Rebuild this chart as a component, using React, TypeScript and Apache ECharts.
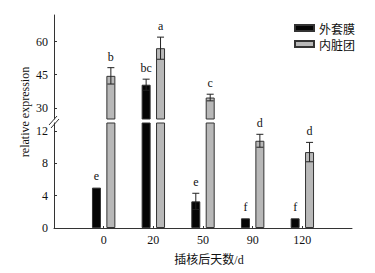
import React, { useEffect, useRef } from "react";
import * as echarts from "echarts";

const categories = ["0", "20", "50", "90", "120"];
const seriesNames = ["外套膜", "内脏团"];
const mantleValues = [5.0, 40.5, 3.3, 1.2, 1.2];
const mantleErrors = [0.1, 2.5, 1.0, 0.1, 0.1];
const mantleLetters = ["e", "bc", "e", "f", "f"];
const visceralValues = [44.5, 57.0, 34.7, 10.8, 9.4];
const visceralErrors = [3.7, 5.0, 1.5, 0.8, 1.2];
const visceralLetters = ["b", "a", "c", "d", "d"];
const lowerTicks = [0, 4, 8, 12];
const upperTicks = [30, 45, 60];
const lowerRange = [0, 13];
const upperRange = [25, 72];

const SERIF = "Liberation Serif, Noto Sans CJK SC";
const BAR_W = 9;
const BAR_GAP = 0.6;
const colors = ["#050505", "#b8b8b8"];

export default function App() {
  const ref = useRef<HTMLDivElement>(null);
  useEffect(() => {
    if (!ref.current) return;
    const chart = echarts.init(ref.current, null, { renderer: "svg" });
    const axisCats = ["", ...categories, ""];
    const values = [mantleValues, visceralValues];
    const errors = [mantleErrors, visceralErrors];
    const letters = [mantleLetters, visceralLetters];
    const half = (BAR_W + BAR_W * BAR_GAP) / 2;

    const buildErr = (inRange: (v: number) => boolean) => {
      const data: number[][] = [];
      const meta: { s: number; letter: string }[] = [];
      for (let s = 0; s < 2; s++) {
        values[s].forEach((v, i) => {
          if (inRange(v)) {
            data.push([i + 1, v, errors[s][i]]);
            meta.push({ s, letter: letters[s][i] });
          }
        });
      }
      return { data, meta };
    };
    const upperErr = buildErr((v) => v > lowerRange[1]);
    const lowerErr = buildErr((v) => v <= lowerRange[1]);

    const makeRender = (meta: { s: number; letter: string }[]) =>
      (params: any, api: any) => {
        const m = meta[params.dataIndex];
        const x = api.value(0);
        const v = api.value(1);
        const e = api.value(2);
        const off = m.s === 0 ? -half : half;
        const top = api.coord([x, v + e]);
        const bot = api.coord([x, v - e]);
        const cx = top[0] + off;
        const children: any[] = [];
        const ls = { stroke: "#222", lineWidth: 1 };
        if (e > 0.2) {
          children.push(
            { type: "line", shape: { x1: cx, y1: top[1], x2: cx, y2: bot[1] }, style: ls },
            { type: "line", shape: { x1: cx - 3.5, y1: top[1], x2: cx + 3.5, y2: top[1] }, style: ls },
            { type: "line", shape: { x1: cx - 3.5, y1: bot[1], x2: cx + 3.5, y2: bot[1] }, style: ls }
          );
        }
        children.push({
          type: "text",
          x: cx,
          y: top[1] - 5,
          style: {
            text: m.letter,
            fill: "#111",
            font: `12px ${SERIF}`,
            align: "center",
            verticalAlign: "bottom",
          },
        });
        return { type: "group", children };
      };

    const yCommon = (ticks: number[], range: number[], grid: number) => ({
      type: "value",
      gridIndex: grid,
      min: range[0],
      max: range[1],
      axisLine: { show: true, lineStyle: { color: "#333", width: 1 } },
      axisTick: { show: true, inside: true, length: 3, customValues: ticks, lineStyle: { color: "#333" } },
      axisLabel: { customValues: ticks, color: "#111", fontFamily: SERIF, fontSize: 12, margin: 6 },
      splitLine: { show: false },
    });

    const padData = (arr: (number | string)[]) => ["-", ...arr, "-"];

    const barStyle = (s: number) => ({
      color: colors[s],
      borderColor: "#333",
      borderWidth: 1,
    });

    chart.setOption({
      animation: false,
      legend: {
        orient: "vertical",
        left: 289,
        top: 17,
        icon: "rect",
        itemWidth: 19,
        itemHeight: 6,
        itemGap: 4,
        textStyle: { fontFamily: "Noto Sans CJK SC", fontSize: 12, color: "#111", lineHeight: 12 },
        data: seriesNames,
      },
      grid: [
        { left: 54, right: 23, top: 15, height: 104 },
        { left: 54, right: 23, top: 123, height: 105 },
      ],
      xAxis: [
        { type: "category", gridIndex: 0, data: axisCats, boundaryGap: false, show: false },
        {
          type: "category",
          gridIndex: 1,
          data: axisCats,
          boundaryGap: false,
          axisLine: { lineStyle: { color: "#333", width: 1 } },
          axisTick: {
            inside: true,
            length: 2,
            interval: (i: number, v: string) => v !== "",
            lineStyle: { color: "#333" },
          },
          axisLabel: { color: "#111", fontFamily: SERIF, fontSize: 12, margin: 6, interval: 0 },
        },
      ],
      yAxis: [yCommon(upperTicks, upperRange, 0), yCommon(lowerTicks, lowerRange, 1)],
      graphic: [
        {
          type: "text",
          x: 25,
          y: 112,
          rotation: Math.PI / 2,
          style: {
            text: "relative expression",
            font: `12px ${SERIF}`,
            fill: "#111",
            align: "center",
            verticalAlign: "middle",
          },
        },
        {
          type: "text",
          x: 209,
          y: 260,
          style: {
            text: "插核后天数/d",
            font: `12px ${SERIF}`,
            fill: "#111",
            align: "center",
            verticalAlign: "middle",
          },
        },
        { type: "line", shape: { x1: 49, y1: 125, x2: 57, y2: 116 }, style: { stroke: "#333", lineWidth: 1 } },
        { type: "line", shape: { x1: 51, y1: 128, x2: 59, y2: 119 }, style: { stroke: "#333", lineWidth: 1 } },
      ],
      series: [
        ...[0, 1].map((s) => ({
          name: seriesNames[s],
          type: "bar",
          xAxisIndex: 0,
          yAxisIndex: 0,
          barWidth: BAR_W,
          barGap: `${BAR_GAP * 100}%`,
          clip: true,
          itemStyle: barStyle(s),
          data: padData(values[s].map((v) => (v > upperRange[0] ? v : "-"))),
        })),
        ...[0, 1].map((s) => ({
          name: seriesNames[s],
          type: "bar",
          xAxisIndex: 1,
          yAxisIndex: 1,
          barWidth: BAR_W,
          barGap: `${BAR_GAP * 100}%`,
          clip: true,
          itemStyle: barStyle(s),
          data: padData(values[s]),
        })),
        {
          type: "custom",
          xAxisIndex: 0,
          yAxisIndex: 0,
          renderItem: makeRender(upperErr.meta),
          data: upperErr.data,
          z: 5,
        },
        {
          type: "custom",
          xAxisIndex: 1,
          yAxisIndex: 1,
          renderItem: makeRender(lowerErr.meta),
          data: lowerErr.data,
          z: 5,
        },
      ],
    });
    return () => chart.dispose();
  }, []);
  return (
    <div
      ref={ref}
      style={{ position: "fixed", left: 0, top: 0, width: 375, height: 273, background: "#fff" }}
    />
  );
}
